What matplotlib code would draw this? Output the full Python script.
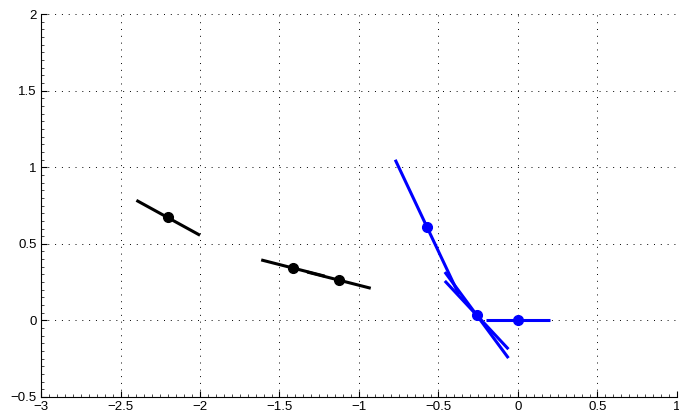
import numpy as np
import matplotlib
matplotlib.use('Agg')
import matplotlib.pyplot as plt
from matplotlib.ticker import MultipleLocator

plt.rcParams['font.family'] = ['Liberation Sans', 'DejaVu Sans']

# points along the curve
black_x = [-2.2, -1.415, -1.126]
black_y = [0.675, 0.342, 0.263]
blue_x = [-0.572, -0.258, 0.0]
blue_y = [0.609, 0.035, 0.0]

# tangent segments: centre and slope
black_seg_x = [-2.2, -1.415, -1.126]
black_seg_y = [0.67, 0.342, 0.263]
black_seg_k = [-0.57, -0.265, -0.265]
blue_seg_x = [-0.572, -0.26, -0.26, 0.0]
blue_seg_y = [0.609, 0.035, 0.035, 0.0]
blue_seg_k = [-2.2, -1.405, -1.114, 0.0]
half = 0.2

fig = plt.figure(figsize=(6.79, 4.15), dpi=100)
ax = fig.add_axes([0.0604, 0.0434, 0.9366, 0.9226])

def draw_segs(xs, ys, ks, color):
    for x, y, k in zip(xs, ys, ks):
        sx = np.array([x - half, x + half])
        ax.plot(sx, y + k * (sx - x), color=color, lw=2.2, solid_capstyle='butt')

draw_segs(black_seg_x, black_seg_y, black_seg_k, 'k')
draw_segs(blue_seg_x, blue_seg_y, blue_seg_k, 'b')
ax.plot(black_x, black_y, 'o', color='k', ms=7)
ax.plot(blue_x, blue_y, 'o', color='b', ms=7)

ax.set_xlim(-3, 1)
ax.set_ylim(-0.5, 2)
ax.xaxis.set_major_locator(MultipleLocator(0.5))
ax.yaxis.set_major_locator(MultipleLocator(0.5))
ax.xaxis.set_minor_locator(MultipleLocator(0.05))
ax.yaxis.set_minor_locator(MultipleLocator(0.05))
ax.grid(True, which='major', linestyle=(0, (1, 6)), color='k', lw=0.7)
ax.set_axisbelow(True)
for s in ['top', 'right']:
    ax.spines[s].set_visible(False)
for s in ['left', 'bottom']:
    ax.spines[s].set_linewidth(0.8)
ax.tick_params(which='major', direction='in', length=4, width=0.8, labelsize=9.5, pad=3)
ax.tick_params(which='minor', direction='in', length=2, width=0.5)
ax.set_xticklabels([f'{v:g}'.replace('-', '\u2212') for v in ax.get_xticks()])
ax.set_yticklabels([f'{v:g}'.replace('-', '\u2212') for v in ax.get_yticks()])

fig.savefig('out.png', dpi=100)
